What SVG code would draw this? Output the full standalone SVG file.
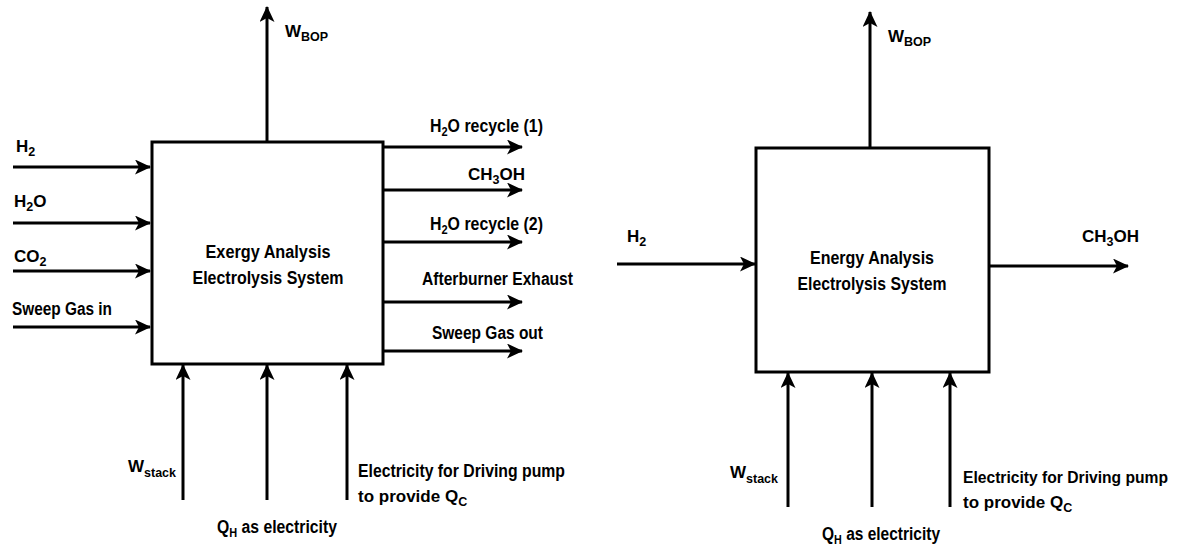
<svg xmlns="http://www.w3.org/2000/svg" width="1180" height="549" viewBox="0 0 1180 549">
<style>
text{font-family:"Liberation Sans",Arial,sans-serif;font-weight:bold;font-size:18px;fill:#000}
.s17{font-size:17px}
.sub{font-size:12.5px}
.box{fill:#fff;stroke:#000;stroke-width:3}
.ln{stroke:#000;stroke-width:3;fill:none}
</style>
<defs>
<marker id="ah" markerUnits="userSpaceOnUse" markerWidth="17" markerHeight="15" refX="15" refY="7.5" orient="auto">
<path d="M0,0 L16,7.5 L0,15 L4,7.5 z" fill="#000"/>
</marker>
</defs>
<g id="connectors">
<line class="ln" x1="13" y1="167" x2="150" y2="167" marker-end="url(#ah)"/>
<line class="ln" x1="13" y1="223" x2="150" y2="223" marker-end="url(#ah)"/>
<line class="ln" x1="13" y1="271" x2="150" y2="271" marker-end="url(#ah)"/>
<line class="ln" x1="13" y1="327" x2="150" y2="327" marker-end="url(#ah)"/>
<line class="ln" x1="384" y1="147" x2="522" y2="147" marker-end="url(#ah)"/>
<line class="ln" x1="384" y1="190" x2="522" y2="190" marker-end="url(#ah)"/>
<line class="ln" x1="384" y1="242" x2="522" y2="242" marker-end="url(#ah)"/>
<line class="ln" x1="384" y1="302" x2="522" y2="302" marker-end="url(#ah)"/>
<line class="ln" x1="384" y1="351" x2="522" y2="351" marker-end="url(#ah)"/>
<line class="ln" x1="267" y1="141" x2="267" y2="7" marker-end="url(#ah)"/>
<line class="ln" x1="183" y1="500" x2="183" y2="365" marker-end="url(#ah)"/>
<line class="ln" x1="267" y1="500" x2="267" y2="365" marker-end="url(#ah)"/>
<line class="ln" x1="347" y1="500" x2="347" y2="365" marker-end="url(#ah)"/>
<line class="ln" x1="870" y1="147" x2="870" y2="12" marker-end="url(#ah)"/>
<line class="ln" x1="617" y1="264" x2="755" y2="264" marker-end="url(#ah)"/>
<line class="ln" x1="990" y1="266" x2="1128" y2="266" marker-end="url(#ah)"/>
<line class="ln" x1="788" y1="507" x2="788" y2="373" marker-end="url(#ah)"/>
<line class="ln" x1="872" y1="507" x2="872" y2="373" marker-end="url(#ah)"/>
<line class="ln" x1="950" y1="507" x2="950" y2="373" marker-end="url(#ah)"/>
</g>
<g id="exergy-box">
<rect class="box" x="152" y="142" width="231" height="222"/>
<text x="268" y="258" text-anchor="middle" textLength="125" lengthAdjust="spacingAndGlyphs">Exergy Analysis</text>
<text x="268" y="284" text-anchor="middle" textLength="151" lengthAdjust="spacingAndGlyphs">Electrolysis System</text>
</g>
<g id="energy-box">
<rect class="box" x="756" y="148" width="233" height="224"/>
<text x="872" y="264" text-anchor="middle" textLength="124" lengthAdjust="spacingAndGlyphs">Energy Analysis</text>
<text x="872" y="290" text-anchor="middle" textLength="149" lengthAdjust="spacingAndGlyphs">Electrolysis System</text>
</g>
<g id="left-labels">
<text class="s17" x="16" y="152">H<tspan class="sub" dy="4">2</tspan></text>
<text class="s17" x="14" y="207">H<tspan class="sub" dy="4">2</tspan><tspan dy="-4">O</tspan></text>
<text class="s17" x="14" y="262">CO<tspan class="sub" dy="4">2</tspan></text>
<text x="12" y="315" textLength="100" lengthAdjust="spacingAndGlyphs">Sweep Gas in</text>
<text x="430" y="132" textLength="113" lengthAdjust="spacingAndGlyphs">H<tspan class="sub" dy="4">2</tspan><tspan dy="-4">O recycle (1)</tspan></text>
<text class="s17" x="468" y="180">CH<tspan class="sub" dy="4">3</tspan><tspan dy="-4">OH</tspan></text>
<text x="430" y="230" textLength="113" lengthAdjust="spacingAndGlyphs">H<tspan class="sub" dy="4">2</tspan><tspan dy="-4">O recycle (2)</tspan></text>
<text x="422" y="285" textLength="151" lengthAdjust="spacingAndGlyphs">Afterburner Exhaust</text>
<text x="432" y="339" textLength="111" lengthAdjust="spacingAndGlyphs">Sweep Gas out</text>
<text class="s17" x="285" y="37">W<tspan class="sub" dy="4">BOP</tspan></text>
<text class="s17" x="128" y="472">W<tspan class="sub" dy="5">stack</tspan></text>
<text x="358" y="477" textLength="207" lengthAdjust="spacingAndGlyphs">Electricity for Driving pump</text>
<text class="s17" x="358" y="502">to provide Q<tspan class="sub" dy="4">C</tspan></text>
<text x="217" y="533" textLength="120" lengthAdjust="spacingAndGlyphs">Q<tspan class="sub" dy="4">H</tspan><tspan dy="-4"> as electricity</tspan></text>
</g>
<g id="right-labels">
<text class="s17" x="627" y="242">H<tspan class="sub" dy="4">2</tspan></text>
<text class="s17" x="1082" y="242">CH<tspan class="sub" dy="4">3</tspan><tspan dy="-4">OH</tspan></text>
<text class="s17" x="888" y="42">W<tspan class="sub" dy="4">BOP</tspan></text>
<text class="s17" x="730" y="478">W<tspan class="sub" dy="5">stack</tspan></text>
<text x="963" y="483" style="font-size:16px" textLength="205" lengthAdjust="spacingAndGlyphs">Electricity for Driving pump</text>
<text class="s17" x="963" y="508">to provide Q<tspan class="sub" dy="4">C</tspan></text>
<text x="822" y="540" textLength="118" lengthAdjust="spacingAndGlyphs">Q<tspan class="sub" dy="4">H</tspan><tspan dy="-4"> as electricity</tspan></text>
</g>
</svg>
